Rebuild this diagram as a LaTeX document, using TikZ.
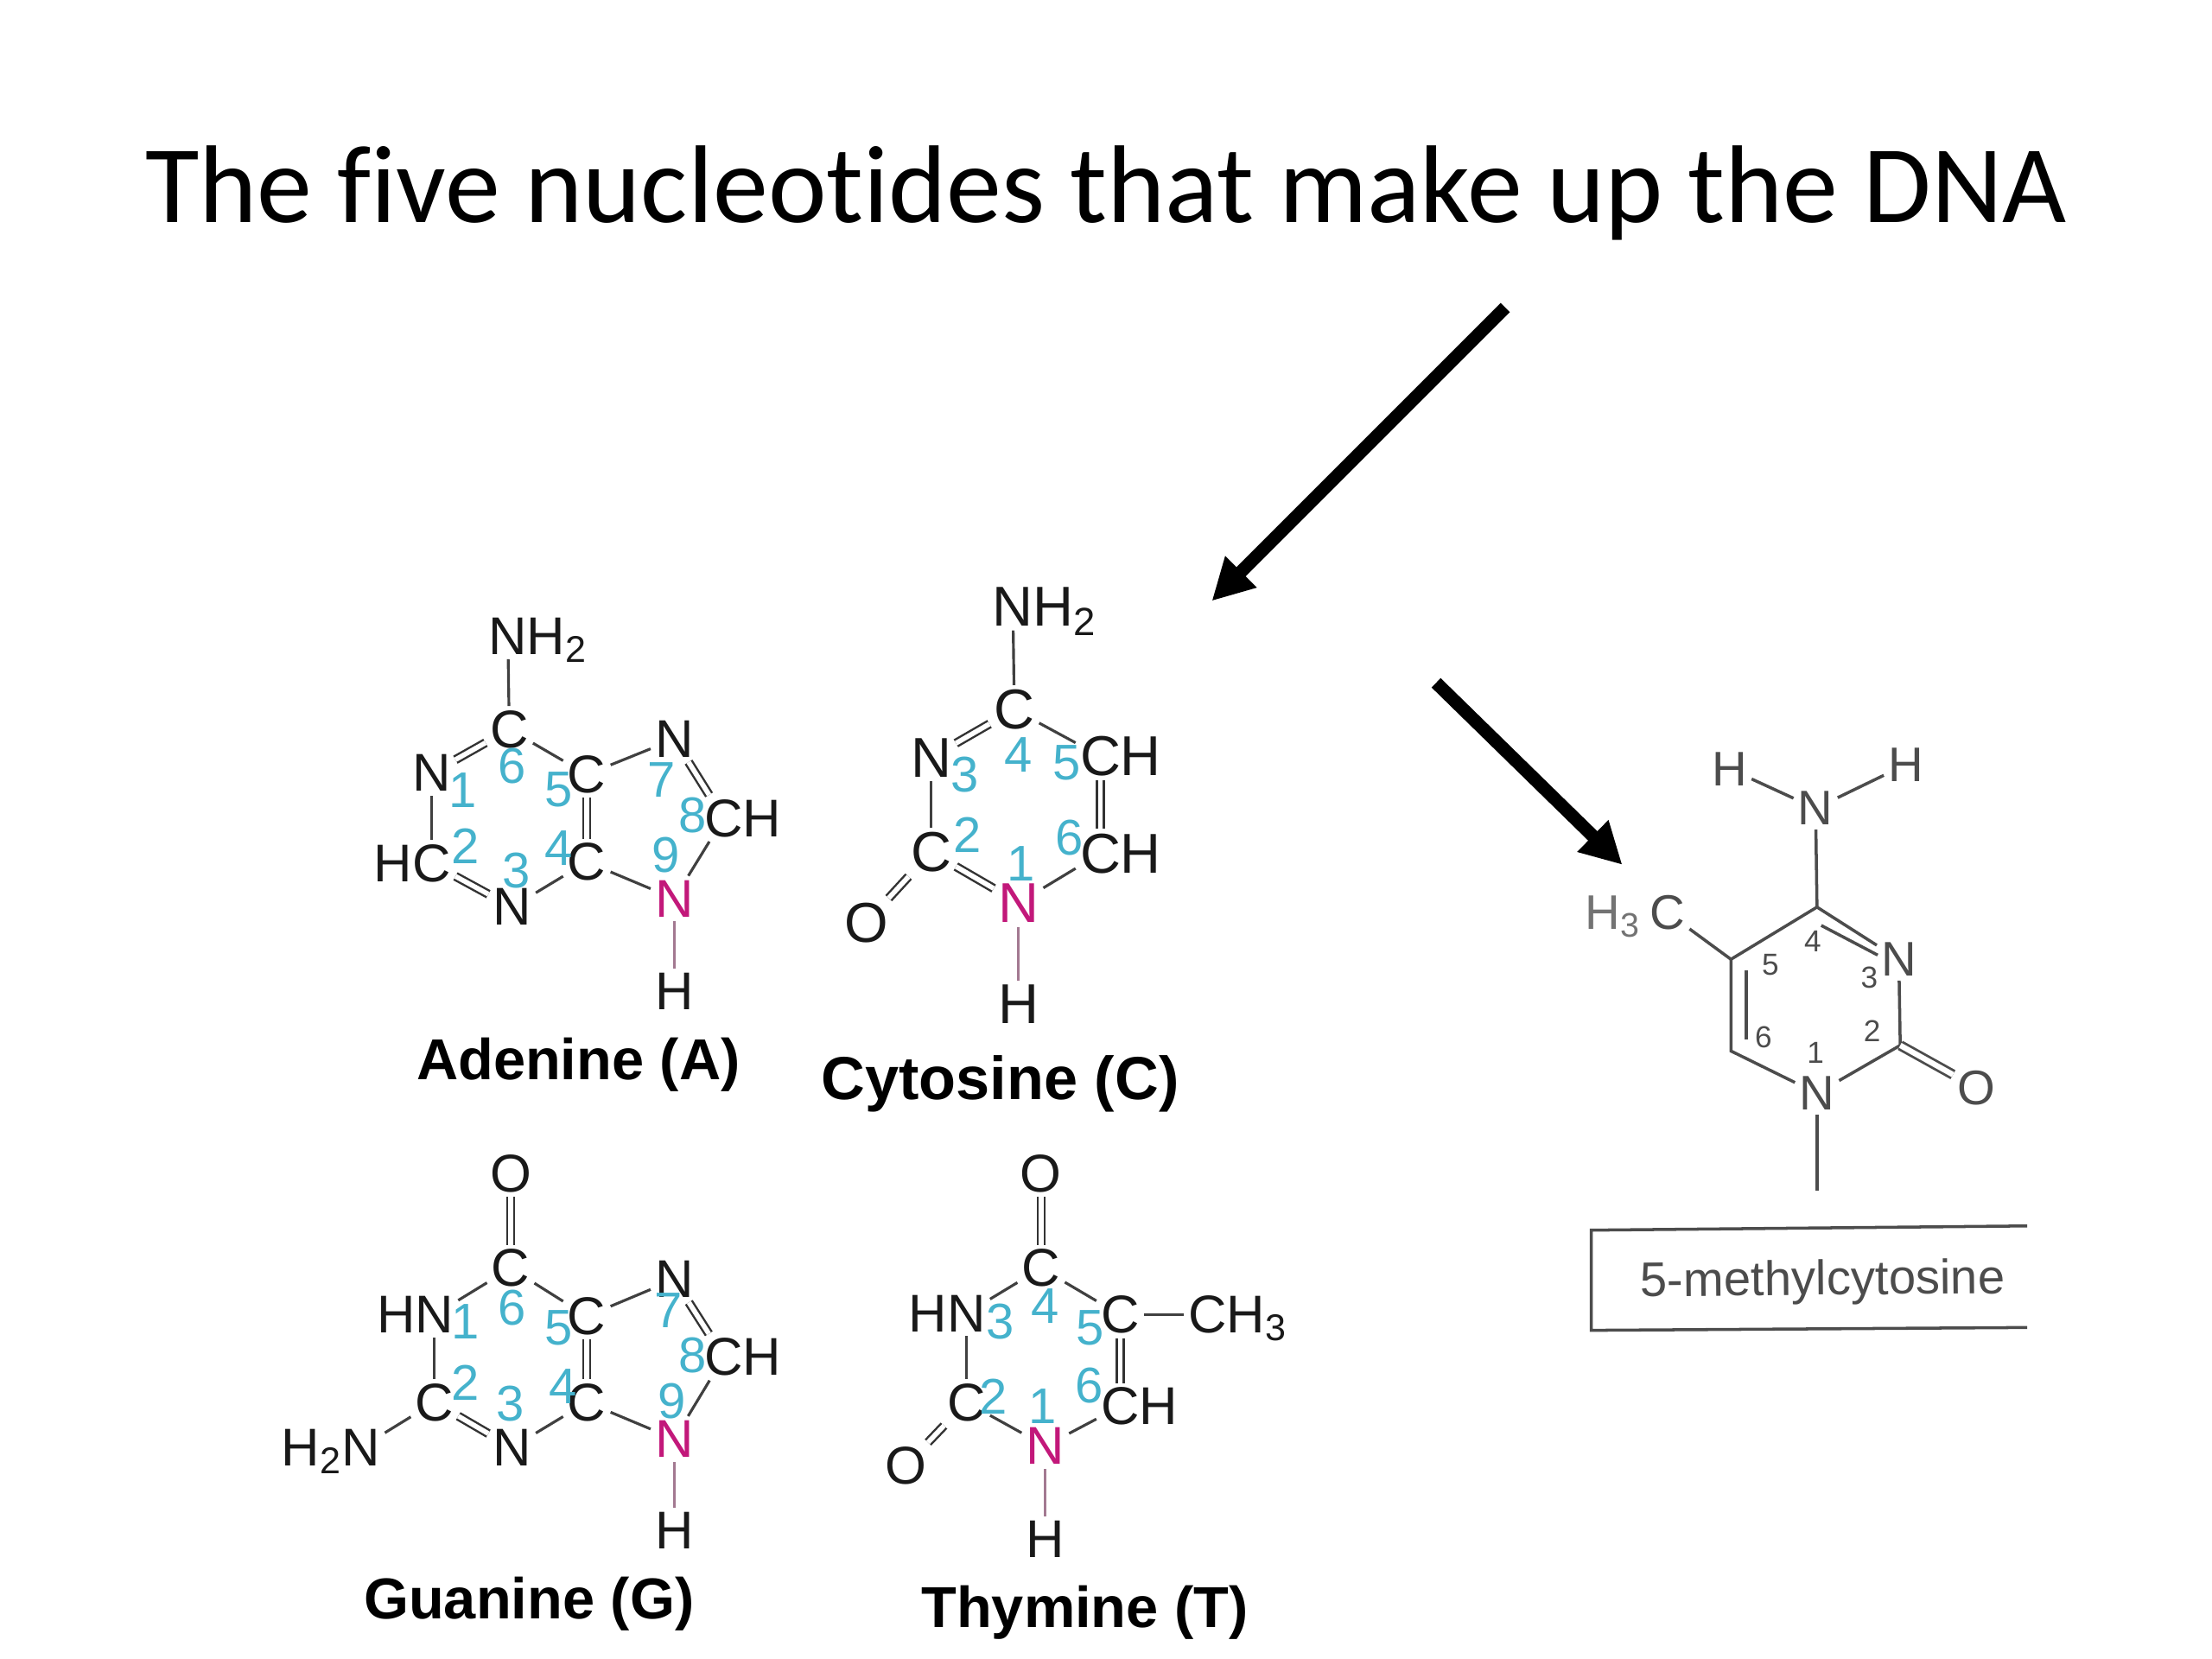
\documentclass[tikz,border=0pt]{standalone}
\usepackage{fontspec}
\setmainfont{Liberation Sans}
\newfontfamily\titlefont[Ligatures=NoCommon]{Carlito}
\usetikzlibrary{positioning,arrows.meta}
\definecolor{ringcyan}{HTML}{45B2CC}
\definecolor{keypink}{HTML}{C2187A}
\tikzset{
  atom/.style={inner sep=1.5pt,outer sep=0pt,font=\fontsize{17.5}{20}\selectfont,text=black!90},
  bigatom/.style={atom,font=\fontsize{18.5}{20}\selectfont},
  keyatom/.style={atom,text=keypink},
  ringno/.style={inner sep=0pt,font=\fontsize{16.5}{20}\selectfont,text=ringcyan},
  bond/.style={line width=0.9pt,draw=black!75},
  dblbond/.style={line width=0.7pt,draw=black!80,double=white,double distance=1.6pt},
  keybond/.style={line width=0.9pt,draw=keypink!45!black!55},
  baselabel/.style={inner sep=0pt,font=\fontsize{19}{22}\selectfont\bfseries},
  matom/.style={inner sep=1.5pt,outer sep=0pt,font=\fontsize{16}{20}\selectfont,text=black!70},
  mno/.style={inner sep=0pt,font=\fontsize{10}{12}\selectfont,text=black!70},
  mbond/.style={line width=1pt,draw=black!70},
  fatarrow/.style={line width=4.3pt,-{Triangle[length=13.6pt,width=13.7pt]}}
}
\begin{document}
\begin{tikzpicture}[x=0.016327cm,y=-0.016327cm]
\useasboundingbox (0,0) rectangle (1568,1176);
\node[anchor=base,inner sep=0pt,font=\fontsize{36.4}{44}\selectfont\titlefont] (title) at (784,158) {The five nucleotides that make up the DNA};

% arrows
\coordinate (upstart) at (1067,218);
\coordinate (upend) at (859,426);
\coordinate (lowstart) at (1018,484);
\coordinate (lowend) at (1150,613);
\draw[fatarrow] (upstart)--(upend);
\draw[fatarrow] (lowstart)--(lowend);

% adenine
\node[atom] (aN6) at (360,451) {N};
\node[atom,base right=-3pt of aN6] (aH6) {H\textsubscript{2}};
\node[atom] (aC6) at (361,517) {C};
\node[atom] (aN1) at (306,548) {N};
\node[atom] (aC2) at (306,612) {C};
\node[atom,base left=-3pt of aC2] (aH2) {H};
\node[atom] (aN3) at (363,643) {N};
\node[atom] (aC4) at (416,611) {C};
\node[atom] (aC5) at (416,549) {C};
\node[atom] (aN7) at (478,524) {N};
\node[atom] (aC8) at (513,580) {C};
\node[atom,base right=-3pt of aC8] (aH8) {H};
\node[keyatom] (aN9) at (478,637) {N};
\node[atom] (aH9) at (478,703) {H};
\draw[bond] (aN6)--(aC6);
\draw[dblbond] (aC6)--(aN1);
\draw[bond] (aN1)--(aC2);
\draw[dblbond] (aC2)--(aN3);
\draw[bond] (aN3)--(aC4);
\draw[dblbond] (aC4)--(aC5);
\draw[bond] (aC5)--(aC6);
\draw[bond] (aC5)--(aN7);
\draw[dblbond] (aN7)--(aC8);
\draw[bond] (aC8)--(aN9);
\draw[bond] (aN9)--(aC4);
\draw[keybond] (aN9)--(aH9);
\node[ringno] (an1) at (328,560) {1};
\node[ringno] (an2) at (330,600) {2};
\node[ringno] (an3) at (366,617) {3};
\node[ringno] (an4) at (396,601) {4};
\node[ringno] (an5) at (396,560) {5};
\node[ringno] (an6) at (363,543) {6};
\node[ringno] (an7) at (469,553) {7};
\node[ringno] (an8) at (491,578) {8};
\node[ringno] (an9) at (472,606) {9};
\node[baselabel] (adenine) at (410,755) {Adenine (A)};

% cytosine
\node[bigatom] (cN4) at (718,430) {N};
\node[bigatom,base right=-3pt of cN4] (cH4) {H\textsubscript{2}};
\node[bigatom] (cC4) at (719,503) {C};
\node[bigatom] (cN3) at (660,537) {N};
\node[bigatom] (cC5) at (780,536) {C};
\node[bigatom,base right=-3pt of cC5] (cH5) {H};
\node[bigatom] (cC6) at (780,605) {C};
\node[bigatom,base right=-3pt of cC6] (cH6) {H};
\node[bigatom] (cC2) at (660,604) {C};
\node[keyatom,font=\fontsize{18.5}{20}\selectfont] (cN1) at (722,640) {N};
\node[bigatom] (cH1) at (722,712) {H};
\node[bigatom] (cO2) at (614,654) {O};
\draw[bond] (cN4)--(cC4);
\draw[dblbond] (cC4)--(cN3);
\draw[bond] (cN3)--(cC2);
\draw[dblbond] (cC2)--(cN1);
\draw[dblbond] (cC2)--(cO2);
\draw[bond] (cN1)--(cC6);
\draw[dblbond] (cC6)--(cC5);
\draw[bond] (cC5)--(cC4);
\draw[keybond] (cN1)--(cH1);
\node[ringno] (cn1) at (724,612) {1};
\node[ringno] (cn2) at (686,592) {2};
\node[ringno] (cn3) at (684,549) {3};
\node[ringno] (cn4) at (722,535) {4};
\node[ringno] (cn5) at (756,541) {5};
\node[ringno] (cn6) at (758,594) {6};
\node[baselabel,font=\fontsize{20}{22}\selectfont\bfseries] (cytosine) at (709,768) {Cytosine (C)};

% guanine
\node[atom] (gO6) at (362,832) {O};
\node[atom] (gC6) at (362,899) {C};
\node[atom] (gN1) at (308,932) {N};
\node[atom,base left=-3pt of gN1] (gH1) {H};
\node[atom] (gC2) at (308,994) {C};
\node[atom] (gN2) at (256,1026) {N};
\node[atom,base left=-3pt of gN2] (gH2) {H\textsubscript{2}};
\node[atom] (gN3) at (363,1026) {N};
\node[atom] (gC4) at (416,994) {C};
\node[atom] (gC5) at (416,933) {C};
\node[atom] (gN7) at (478,907) {N};
\node[atom] (gC8) at (513,962) {C};
\node[atom,base right=-3pt of gC8] (gH8) {H};
\node[keyatom] (gN9) at (478,1020) {N};
\node[atom] (gH9) at (478,1085) {H};
\draw[dblbond] (gO6)--(gC6);
\draw[bond] (gC6)--(gN1);
\draw[bond] (gN1)--(gC2);
\draw[bond] (gC2)--(gN2);
\draw[dblbond] (gC2)--(gN3);
\draw[bond] (gN3)--(gC4);
\draw[dblbond] (gC4)--(gC5);
\draw[bond] (gC5)--(gC6);
\draw[bond] (gC5)--(gN7);
\draw[dblbond] (gN7)--(gC8);
\draw[bond] (gC8)--(gN9);
\draw[bond] (gN9)--(gC4);
\draw[keybond] (gN9)--(gH9);
\node[ringno] (gn1) at (330,937) {1};
\node[ringno] (gn2) at (330,980) {2};
\node[ringno] (gn3) at (362,995) {3};
\node[ringno] (gn4) at (399,983) {4};
\node[ringno] (gn5) at (396,941) {5};
\node[ringno] (gn6) at (363,927) {6};
\node[ringno] (gn7) at (474,929) {7};
\node[ringno] (gn8) at (491,961) {8};
\node[ringno] (gn9) at (476,993) {9};
\node[baselabel] (guanine) at (375,1137) {Guanine (G)};

% thymine
\node[atom] (tO4) at (738,832) {O};
\node[atom] (tC4) at (738,899) {C};
\node[atom] (tN3) at (685,931) {N};
\node[atom,base left=-3pt of tN3] (tH3) {H};
\node[atom] (tC2) at (685,994) {C};
\node[atom] (tO2) at (642,1039) {O};
\node[keyatom] (tN1) at (741,1025) {N};
\node[atom] (tH1) at (741,1091) {H};
\node[atom] (tC6) at (794,997) {C};
\node[atom,base right=-3pt of tC6] (tH6) {H};
\node[atom] (tC5) at (794,932) {C};
\node[atom] (tC7) at (856,932) {C};
\node[atom,base right=-3pt of tC7] (tH7) {H\textsubscript{3}};
\draw[dblbond] (tO4)--(tC4);
\draw[bond] (tC4)--(tN3);
\draw[bond] (tN3)--(tC2);
\draw[dblbond] (tC2)--(tO2);
\draw[bond] (tC2)--(tN1);
\draw[bond] (tN1)--(tC6);
\draw[dblbond] (tC6)--(tC5);
\draw[bond] (tC5)--(tC4);
\draw[bond] (tC5)--(tC7);
\draw[keybond] (tN1)--(tH1);
\node[ringno] (tn1) at (739,997) {1};
\node[ringno] (tn2) at (704,990) {2};
\node[ringno] (tn3) at (709,937) {3};
\node[ringno] (tn4) at (741,926) {4};
\node[ringno] (tn5) at (773,941) {5};
\node[ringno] (tn6) at (772,982) {6};
\node[baselabel] (thymine) at (769,1143) {Thymine (T)};

% 5-methylcytosine
\node[matom] (mHl) at (1226,545) {H};
\node[matom] (mN4) at (1287,573) {N};
\node[matom] (mHr) at (1351,542) {H};
\node[matom] (mC) at (1182,647) {C};
\node[matom,text=black!55,anchor=base east,inner sep=0pt] (mH3) at ([xshift=-1.5pt]mC.base west) {H\textsubscript{3}};
\node[matom] (mN3) at (1346,680) {N};
\node[matom] (mN1) at (1288,775) {N};
\node[matom] (mO) at (1401,771) {O};
\coordinate (mC4) at (1288,643);
\coordinate (mC5) at (1227,680);
\coordinate (mC6) at (1227,745);
\coordinate (mC2) at (1347,741);
\coordinate (mtail) at (1288,844);
\coordinate (min5) at (1238,688);
\coordinate (min6) at (1238,737);
\coordinate (min4) at (1291,656);
\coordinate (min3) at (1331,677);
\draw[mbond] (mHl)--(mN4);
\draw[mbond] (mHr)--(mN4);
\draw[mbond] (mN4)--(mC4);
\draw[mbond] (mC)--(mC5);
\draw[mbond] (mN3)--(mC4)--(mC5)--(mC6)--(mN1);
\draw[mbond] (mN1)--(mC2)--(mN3);
\draw[mbond] (mN1)--(mtail);
\draw[mbond] (min5)--(min6);
\draw[mbond] (min4)--(min3);
\draw[mbond,double=white,double distance=1.8pt,line width=0.8pt] (mC2)--(mO);
\node[mno] (mn1) at (1287,746) {1};
\node[mno] (mn2) at (1327,731) {2};
\node[mno] (mn3) at (1325,693) {3};
\node[mno] (mn4) at (1285,667) {4};
\node[mno] (mn5) at (1255,684) {5};
\node[mno] (mn6) at (1250,735) {6};
\coordinate (mboxtr) at (1437,869);
\coordinate (mboxtl) at (1128,872);
\coordinate (mboxbl) at (1128,943);
\coordinate (mboxbr) at (1437,941);
\draw[mbond] (mboxtr)--(mboxtl)--(mboxbl)--(mboxbr);
\node[inner sep=0pt,rotate=0.5,font=\fontsize{16}{18}\selectfont,text=black!70] (mname) at (1292,909) {5-methylcytosine};
\end{tikzpicture}
\end{document}
